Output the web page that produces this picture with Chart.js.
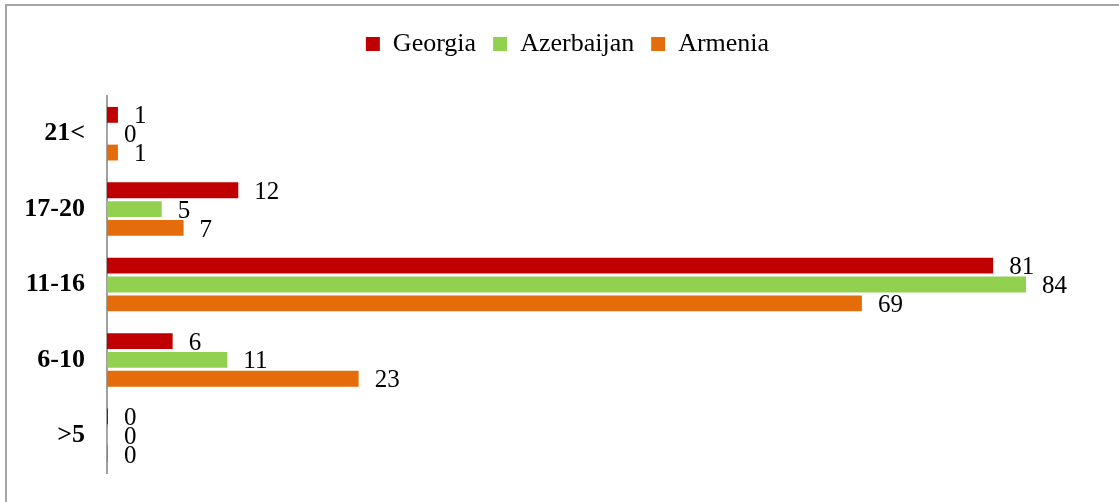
<!DOCTYPE html>
<html>
<head>
    <title>Age groups</title>
    <script src="https://cdn.jsdelivr.net/npm/chart.js"></script>
    <style>
        body { margin: 0; background: #fff; overflow: hidden; }
        .frame { position: absolute; left: 5px; top: 4px; width: 1300px; height: 700px;
                 border-left: 2px solid #a6a6a6; border-top: 2px solid #a6a6a6; }
        #chart { position: absolute; left: 0; top: 0; }
    </style>
</head>
<body>
    <div class="frame"></div>
    <canvas id="chart" width="1119" height="502"></canvas>

    <script>
        // values
        const categories = ['21<', '17-20', '11-16', '6-10', '>5'];
        const georgia    = [1, 12, 81, 6, 0];
        const azerbaijan = [0, 5, 84, 11, 0];
        const armenia    = [1, 7, 69, 23, 0];

        // number next to each bar
        const barLabels = {
            id: 'barLabels',
            afterDatasetsDraw(chart) {
                const ctx = chart.ctx;
                ctx.save();
                ctx.font = '25px "Liberation Serif", "Times New Roman", serif';
                ctx.fillStyle = '#000';
                ctx.textAlign = 'left';
                ctx.textBaseline = 'middle';
                chart.data.datasets.forEach((ds, i) => {
                    chart.getDatasetMeta(i).data.forEach((bar, j) => {
                        ctx.fillText(ds.data[j], bar.x + 16, bar.y + 2);
                    });
                });
                ctx.restore();
            }
        };

        new Chart(document.getElementById('chart'), {
            type: 'bar',
            data: {
                labels: categories,
                datasets: [
                    { label: 'Georgia', data: georgia, backgroundColor: '#C00000' },
                    { label: 'Azerbaijan', data: azerbaijan, backgroundColor: '#92D050' },
                    { label: 'Armenia', data: armenia, backgroundColor: '#E46C0A' }
                ]
            },
            options: {
                indexAxis: 'y',
                responsive: false,
                animation: false,
                categoryPercentage: 0.75,
                barPercentage: 0.84,
                minBarLength: 1,
                layout: { padding: { left: 16, right: 0, top: 14, bottom: 29 } },
                plugins: {
                    tooltip: { enabled: false },
                    legend: {
                        position: 'top',
                        labels: {
                            boxWidth: 14,
                            boxHeight: 14,
                            padding: 17,
                            color: '#000',
                            font: { family: '"Liberation Serif", "Times New Roman", serif', size: 26 }
                        }
                    }
                },
                scales: {
                    x: {
                        position: 'top',
                        min: 0,
                        max: 92.5,
                        grid: { display: false },
                        border: { display: false },
                        ticks: { display: false },
                        afterFit(scale) { scale.height = 29; }
                    },
                    y: {
                        grid: { display: false, drawTicks: false },
                        border: { display: true, color: '#a0a0a0', width: 2 },
                        ticks: {
                            padding: 22,
                            color: '#000',
                            font: { family: '"Liberation Serif", "Times New Roman", serif', size: 26, weight: 'bold' }
                        },
                        afterFit(scale) {
                            scale.width = 91;
                            scale.paddingTop = 0;
                            scale.paddingBottom = 0;
                        }
                    }
                }
            },
            plugins: [barLabels]
        });
    </script>
</body>
</html>
